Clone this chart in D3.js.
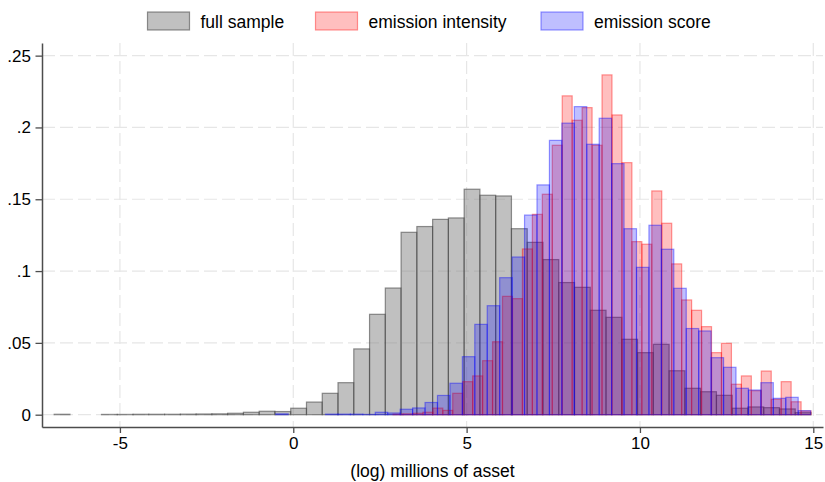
<!DOCTYPE html>
<html>
<head>
<meta charset="utf-8">
<script src="https://cdn.jsdelivr.net/npm/d3@7"></script>
<style>
  body { margin: 0; background: #fff; }
  text { font-family: "Liberation Sans", Arial, sans-serif; }
</style>
</head>
<body>
<div id="chart"></div>
<script>
// histogram densities, one value per bin
var fullStart = -6.896, fullWidth = 0.4548;
var fullSample = [
  0.0003, 0, 0, 0.0002, 0.0002, 0.0003, 0.0003, 0.0003, 0.0004, 0.0005,
  0.0006, 0.001, 0.0017, 0.0024, 0.0022, 0.0045, 0.0088, 0.0149, 0.0223, 0.0458,
  0.0699, 0.0882, 0.127, 0.131, 0.136, 0.137, 0.157, 0.1528, 0.1523, 0.1295,
  0.12, 0.108, 0.092, 0.0887, 0.0727, 0.0678, 0.0525, 0.0432, 0.049, 0.0306,
  0.0184, 0.016, 0.0135, 0.0045, 0.0054, 0.0049, 0.004, 0.0014
];

var intensityStart = 2.877, intensityWidth = 0.2871;
var emissionIntensity = [
  0.0004, 0.0006, 0.001, 0.0017, 0.0046, 0.003, 0.0149, 0.023, 0.027, 0.0376,
  0.0508, 0.0824, 0.0808, 0.1154, 0.1395, 0.1535, 0.1876, 0.222, 0.205, 0.2138,
  0.1876, 0.2366, 0.2087, 0.1755, 0.1205, 0.1187, 0.1558, 0.1333, 0.105, 0.0799,
  0.0727, 0.0613, 0.0432, 0.0497, 0.0212, 0.027, 0.0167, 0.0304, 0.0107, 0.023,
  0.009, 0.0026
];

var scoreStart = -0.505, scoreWidth = 0.3588;
var emissionScore = [
  0.0006, 0, 0, 0, 0.0004, 0.0004, 0.0004, 0.0002, 0.0017, 0.0012,
  0.0038, 0.0047, 0.0085, 0.0134, 0.0219, 0.0404, 0.0629, 0.0759, 0.0954, 0.1098,
  0.139, 0.16, 0.191, 0.203, 0.2145, 0.1883, 0.2064, 0.1748, 0.1295, 0.1026,
  0.1319, 0.1152, 0.088, 0.06, 0.0583, 0.0397, 0.033, 0.0184, 0.0172, 0.0223,
  0.0114, 0.0121, 0.0028
];

var xTicks = [-5, 0, 5, 10, 15];
var yTicks = [0, 0.05, 0.1, 0.15, 0.2, 0.25];
var yTickLabels = ["0", ".05", ".1", ".15", ".2", ".25"];
var legendLabels = ["full sample", "emission intensity", "emission score"];

var width = 825, height = 482;
var plot = { left: 42, right: 823, top: 43, bottom: 427 };

var x = d3.scaleLinear().domain([-7.248, 15.28]).range([plot.left, plot.right]);
var y = d3.scaleLinear().domain([-0.00857, 0.2588]).range([plot.bottom, plot.top]);

var styles = [
  { fill: "rgba(130,130,130,0.5)", stroke: "rgba(60,60,60,0.55)" },
  { fill: "rgba(255,0,0,0.25)", stroke: "rgba(255,0,0,0.4)" },
  { fill: "rgba(0,0,255,0.25)", stroke: "rgba(0,0,255,0.4)" }
];

var series = [
  { start: fullStart, w: fullWidth, values: fullSample },
  { start: intensityStart, w: intensityWidth, values: emissionIntensity },
  { start: scoreStart, w: scoreWidth, values: emissionScore }
];

var svg = d3.select("#chart").append("svg")
  .attr("width", width)
  .attr("height", height);

// gridlines
var grid = svg.append("g").attr("class", "grid")
  .attr("stroke", "#e6e6e6").attr("stroke-width", 1.2)
  .attr("stroke-dasharray", "13,5");
grid.selectAll(".hgrid").data(yTicks).join("line")
  .attr("x1", plot.left).attr("x2", plot.right)
  .attr("y1", d => y(d)).attr("y2", d => y(d));
grid.selectAll(".vgrid").data(xTicks).join("line")
  .attr("y1", plot.top).attr("y2", plot.bottom)
  .attr("x1", d => x(d)).attr("x2", d => x(d));

// histograms: full sample, then intensity, then score on top
series.forEach(function (s, k) {
  var bins = s.values.map((v, i) => ({ x0: s.start + i * s.w, x1: s.start + (i + 1) * s.w, v: v }))
    .filter(d => d.v > 0);
  svg.append("g")
    .selectAll("rect")
    .data(bins)
    .join("rect")
    .attr("x", d => x(d.x0))
    .attr("width", d => x(d.x1) - x(d.x0))
    .attr("y", d => y(d.v))
    .attr("height", d => y(0) - y(d.v))
    .attr("fill", styles[k].fill)
    .attr("stroke", styles[k].stroke)
    .attr("stroke-width", 1.2);
});

// axes
var yAxis = svg.append("g")
  .attr("transform", `translate(${plot.left},0)`)
  .call(d3.axisLeft(y).tickValues(yTicks).tickFormat((d, i) => yTickLabels[i])
    .tickSize(6.5).tickSizeOuter(0).tickPadding(4.5));
var xAxis = svg.append("g")
  .attr("transform", `translate(0,${plot.bottom})`)
  .call(d3.axisBottom(x).tickValues(xTicks).tickFormat(d => d < 0 ? "-" + Math.abs(d) : d)
    .tickSize(6).tickSizeOuter(0).tickPadding(4));

[xAxis, yAxis].forEach(function (g) {
  g.select(".domain").attr("stroke", "#4d4d4d").attr("stroke-width", 1.5);
  g.selectAll(".tick line").attr("stroke", "#4d4d4d").attr("stroke-width", 1.3);
  g.selectAll(".tick text").attr("fill", "#000").style("font-size", "17px")
    .style("font-family", "'Liberation Sans', Arial, sans-serif");
});

svg.append("text")
  .attr("x", (plot.left + plot.right) / 2)
  .attr("y", 477)
  .attr("text-anchor", "middle")
  .style("font-size", "17.5px")
  .text("(log) millions of asset");

// legend
var legendX = [147.5, 315.5, 541];
var legend = svg.append("g").attr("class", "legend");
legendLabels.forEach(function (label, k) {
  legend.append("rect")
    .attr("x", legendX[k]).attr("y", 12)
    .attr("width", 42).attr("height", 18)
    .attr("fill", styles[k].fill)
    .attr("stroke", styles[k].stroke)
    .attr("stroke-width", 1.2);
  legend.append("text")
    .attr("x", legendX[k] + 53).attr("y", 27.5)
    .style("font-size", "17.5px")
    .text(label);
});
</script>
</body>
</html>
